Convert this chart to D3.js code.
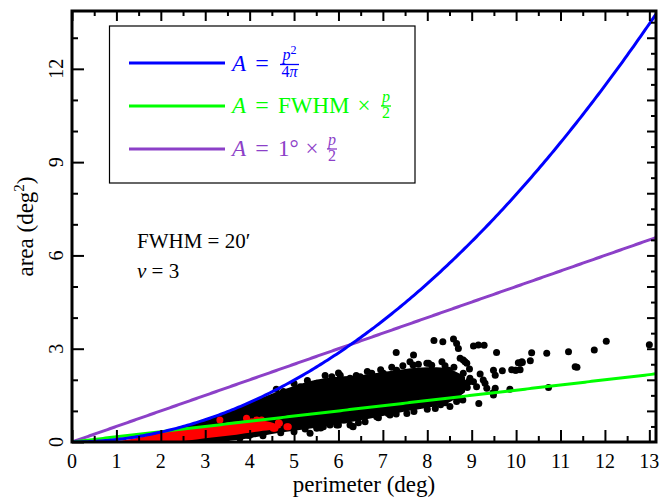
<!DOCTYPE html>
<html>
<head>
<meta charset="utf-8">
<script src="https://cdn.jsdelivr.net/npm/d3@7"></script>
<style>
body { margin: 0; background: #fff; }
</style>
</head>
<body>
<svg width="663" height="502"></svg>
<script>
// ---- data ----
var xTicks = [0, 1, 2, 3, 4, 5, 6, 7, 8, 9, 10, 11, 12, 13];
var yTicks = [0, 3, 6, 9, 12];
var fwhmDeg = 20 / 60;   // FWHM = 20'
var oneDeg = 1;

// dense part of the black cloud: [perimeter, lower area, upper area]
var blackCore = [
  [1.8, 0.00, 0.24], [2.0, 0.00, 0.32], [2.5, 0.00, 0.50], [3.0, 0.00, 0.72],
  [3.5, 0.03, 0.97], [4.0, 0.12, 1.27], [4.5, 0.26, 1.55], [5.0, 0.36, 1.80],
  [5.5, 0.46, 2.00], [6.0, 0.58, 2.10], [6.5, 0.70, 2.15], [7.0, 0.84, 2.25],
  [7.5, 0.98, 2.35], [8.0, 1.10, 2.40], [8.5, 1.28, 2.35], [8.85, 1.60, 2.10]
];
// dense part of the red cloud
var redCore = [
  [1.0, 0.00, 0.02], [1.3, 0.00, 0.09], [1.6, 0.00, 0.17], [2.0, 0.00, 0.29],
  [2.4, 0.02, 0.40], [2.8, 0.08, 0.47], [3.2, 0.15, 0.56], [3.6, 0.22, 0.64],
  [4.0, 0.30, 0.70], [4.3, 0.36, 0.68], [4.6, 0.42, 0.58], [4.7, 0.46, 0.50]
];
// single black points [perimeter, area]
var blackPts = [
  [8.15,3.26],[8.35,3.22],[8.59,3.31],[8.66,3.17],[8.70,3.01],[9.04,3.09],[9.15,3.12],[9.28,3.11],
  [9.56,2.88],[7.30,2.88],[7.69,2.80],[10.35,2.87],[10.69,2.85],[11.18,2.90],[11.76,2.96],[12.03,3.24],
  [13.0,3.13],[13.2,2.45],[11.33,2.42],[11.37,2.40],[10.73,1.75],[9.86,1.70],[10.0,2.31],[10.09,2.53],
  [10.13,2.58],[9.98,2.31],[9.69,2.29],[9.49,2.31],[9.53,2.15],[9.49,1.51],[9.48,1.58],[9.34,1.73],
  [9.53,1.73],[9.16,1.24],[9.19,2.19],[9.26,1.99],[9.30,1.89],[8.80,1.35],[8.36,1.35],[8.40,1.26],
  [8.18,1.08],[7.54,0.92],[7.12,0.92],[7.16,0.87],[6.86,0.81],[6.60,0.65],[6.32,0.51],[6.15,0.71],
  [6.19,0.76],[8.89,2.53],[8.81,2.64],[8.74,2.69],[8.81,2.21],[8.03,2.53],[7.68,2.48],[7.61,2.58],
  [10.32,2.61],[10.05,2.55],[10.14,2.56],[10.09,2.32],[9.90,2.32],[5.36,0.28],[6.26,0.55],[5.66,0.49],
  [5.81,0.55],[6.11,0.71],[6.04,1.03],[5.89,0.92],[5.85,2.10],[6.04,2.15],[6.26,2.05],[6.49,2.10],
  [6.75,2.21],[4.76,1.62],[5.14,1.78],[5.51,1.89],[7.01,2.21],[7.31,2.31],[7.99,2.53],[8.33,2.58],
  [8.48,2.31],[8.85,2.58],[8.96,1.99],[9.04,1.94],[8.66,1.62],[8.66,1.30],[8.51,1.14],[9.11,1.78],
  [8.93,1.94],[8.96,2.05],[2.51,0.12],[2.81,0.06],[3.18,0.17],[3.48,0.12],[3.78,0.12],[4.00,0.22],
  [3.15,0.22],[3.48,0.28],[3.97,0.22],[4.50,0.44],[4.91,0.49],[5.51,0.44],[5.96,0.55],[6.33,0.49],
  // ragged upper edge of the dense part
  [4.60,1.70],[5.00,1.88],[5.30,1.98],[5.70,2.14],[6.00,2.22],[6.40,2.14],[6.65,2.27],[6.95,2.32],
  [7.20,2.40],[7.45,2.45],[7.80,2.50],[8.10,2.47],[8.40,2.45],[8.60,2.40],[8.95,2.35],[8.90,1.90],
  // ragged lower edge of the dense part
  [4.30,0.20],[4.70,0.30],[5.00,0.33],[5.25,0.42],[5.60,0.45],[6.00,0.55],[6.45,0.62],[6.90,0.78],
  [7.30,0.90],[7.70,0.98],[8.00,1.05],[8.30,1.20],[8.70,1.42],[8.90,1.75]
];
// single red points
var redPts = [
  [4.57,0.44],[4.65,0.60],[4.84,0.49],[4.16,0.71],[4.27,0.71],[4.05,0.65],[3.33,0.71],[3.93,0.76],
  [4.65,0.62],[4.87,0.49],[4.23,0.65],[4.53,0.44],[4.67,0.60],[3.97,0.62],[4.16,0.69]
];

var legendItems = [
  { color: "#0000ff", kind: "iso" },
  { color: "#00ff00", kind: "fwhm" },
  { color: "#8c40c8", kind: "deg" }
];

// ---- setup ----
var svg = d3.select("svg")
    .attr("font-family", "'Liberation Serif', 'DejaVu Serif', 'Times New Roman', serif");

var x = d3.scaleLinear().domain([0, 13.15]).range([72, 656]);
var y = d3.scaleLinear().domain([0, 13.86]).range([442, 11]);

var plotW = x.range()[1] - x.range()[0],
    plotH = y.range()[0] - y.range()[1];

svg.append("clipPath").attr("id", "plotclip")
  .append("rect")
    .attr("x", x.range()[0]).attr("y", y.range()[1])
    .attr("width", plotW).attr("height", plotH);

var plot = svg.append("g").attr("clip-path", "url(#plotclip)");

// clouds
var cloudArea = d3.area()
    .x(function(d) { return x(d[0]); })
    .y0(function(d) { return y(d[1]); })
    .y1(function(d) { return y(d[2]); })
    .curve(d3.curveCatmullRom);

plot.append("path").datum(blackCore)
    .attr("d", cloudArea).attr("fill", "#000");
plot.append("g").selectAll("circle")
  .data(blackPts).enter().append("circle")
    .attr("cx", function(d) { return x(d[0]); })
    .attr("cy", function(d) { return y(d[1]); })
    .attr("r", 3.5).attr("fill", "#000");

plot.append("path").datum(redCore)
    .attr("d", cloudArea).attr("fill", "#ff0000");
plot.append("g").selectAll("circle")
  .data(redPts).enter().append("circle")
    .attr("cx", function(d) { return x(d[0]); })
    .attr("cy", function(d) { return y(d[1]); })
    .attr("r", 3.5).attr("fill", "#ff0000");

// model curves
var pGrid = d3.range(0, 13.3, 0.05);
function areaOf(kind, p) {
  if (kind === "iso") return p * p / (4 * Math.PI);
  if (kind === "fwhm") return fwhmDeg * p / 2;
  return oneDeg * p / 2;
}
var line = d3.line()
    .x(function(d) { return x(d[0]); })
    .y(function(d) { return y(d[1]); });

legendItems.slice().reverse().forEach(function(it) {
  plot.append("path")
    .datum(pGrid.map(function(p) { return [p, areaOf(it.kind, p)]; }))
    .attr("d", line)
    .attr("fill", "none")
    .attr("stroke", it.color)
    .attr("stroke-width", 3);
});

// ---- axes (ticks point inward) ----
function styleAxis(g) {
  g.select(".domain").remove();
  g.selectAll("line").attr("stroke", "#000").attr("stroke-width", 2);
  g.selectAll("text").remove();
}
var xMinor = d3.range(0.5, 13.1, 1);
var yMinorLeft = d3.range(1, 13.9, 1).filter(function(v) { return v % 3 !== 0; });
var yRightMajor = d3.range(1, 13.9, 1);
var yRightMinor = d3.range(0.5, 13.9, 1);

var B = y.range()[0], T = y.range()[1], L = x.range()[0], R = x.range()[1];

svg.append("g").attr("transform", "translate(0," + B + ")")
  .call(d3.axisBottom(x).tickValues(xTicks).tickSize(-12)).call(styleAxis);
svg.append("g").attr("transform", "translate(0," + B + ")")
  .call(d3.axisBottom(x).tickValues(xMinor).tickSize(-6)).call(styleAxis);
svg.append("g").attr("transform", "translate(0," + T + ")")
  .call(d3.axisTop(x).tickValues(xTicks).tickSize(-10)).call(styleAxis);
svg.append("g").attr("transform", "translate(0," + T + ")")
  .call(d3.axisTop(x).tickValues(xMinor).tickSize(-5)).call(styleAxis);
svg.append("g").attr("transform", "translate(" + L + ",0)")
  .call(d3.axisLeft(y).tickValues(yTicks).tickSize(-12)).call(styleAxis);
svg.append("g").attr("transform", "translate(" + L + ",0)")
  .call(d3.axisLeft(y).tickValues(yMinorLeft).tickSize(-6)).call(styleAxis);
svg.append("g").attr("transform", "translate(" + R + ",0)")
  .call(d3.axisRight(y).tickValues(yRightMajor).tickSize(-9)).call(styleAxis);
svg.append("g").attr("transform", "translate(" + R + ",0)")
  .call(d3.axisRight(y).tickValues(yRightMinor).tickSize(-5)).call(styleAxis);

svg.append("rect")
    .attr("x", L).attr("y", T).attr("width", plotW).attr("height", plotH)
    .attr("fill", "none").attr("stroke", "#000").attr("stroke-width", 3);

// tick labels
svg.append("g").selectAll("text")
  .data(xTicks).enter().append("text")
    .attr("x", function(d) { return x(d); })
    .attr("y", 468)
    .attr("text-anchor", "middle")
    .attr("font-size", 20)
    .text(function(d) { return d; });

svg.append("g").selectAll("text")
  .data(yTicks).enter().append("text")
    .attr("transform", function(d) { return "translate(63," + y(d) + ") rotate(-90)"; })
    .attr("text-anchor", "middle")
    .attr("font-size", 20)
    .text(function(d) { return d; });

// axis titles
svg.append("text")
    .attr("x", (L + R) / 2).attr("y", 492)
    .attr("text-anchor", "middle")
    .attr("font-size", 23)
    .text("perimeter (deg)");

var yl = svg.append("text")
    .attr("transform", "translate(33," + (T + B) / 2 + ") rotate(-90)")
    .attr("text-anchor", "middle")
    .attr("font-size", 23);
yl.append("tspan").text("area (deg");
yl.append("tspan").attr("font-size", 15).attr("dy", -9).text("2");
yl.append("tspan").attr("dy", 9).text(")");

// ---- legend ----
var leg = svg.append("g");
leg.append("rect")
    .attr("x", 109.5).attr("y", 26).attr("width", 305.5).attr("height", 157)
    .attr("fill", "#fff").attr("stroke", "#000").attr("stroke-width", 1.2);

var rowY = [63, 106, 149];
var baseY = [71, 112.5, 155.5];

function mathText(g, xPos, yPos, size, color, parts, anchor) {
  var t = g.append("text").attr("x", xPos).attr("y", yPos)
      .attr("font-size", size).attr("fill", color)
      .attr("text-anchor", anchor || "start");
  parts.forEach(function(p) {
    var s = t.append("tspan").text(p[0]);
    if (p[1]) s.attr("font-style", "italic");
  });
  return t;
}
function frac(g, x0, w, base, color, num, den) {
  var bar = base - 6.5;
  g.append("line")
      .attr("x1", x0).attr("x2", x0 + w).attr("y1", bar).attr("y2", bar)
      .attr("stroke", color).attr("stroke-width", 1.3);
  var n = g.append("text").attr("x", x0 + w / 2).attr("y", bar - 4.5)
      .attr("text-anchor", "middle").attr("font-size", 16).attr("fill", color);
  num.forEach(function(p) {
    var s = n.append("tspan").text(p[0]);
    if (p[1]) s.attr("font-style", "italic");
    if (p[2]) s.attr("font-size", 12).attr("dy", -6);
  });
  var d = g.append("text").attr("x", x0 + w / 2).attr("y", bar + 12)
      .attr("text-anchor", "middle").attr("font-size", 16).attr("fill", color);
  den.forEach(function(p) {
    var s = d.append("tspan").text(p[0]);
    if (p[1]) s.attr("font-style", "italic");
  });
}

legendItems.forEach(function(it, i) {
  leg.append("line")
      .attr("x1", 129).attr("x2", 225).attr("y1", rowY[i]).attr("y2", rowY[i])
      .attr("stroke", it.color).attr("stroke-width", 3);
  var c = it.color, b = baseY[i];
  mathText(leg, 232, b, 23, c, [["A", true]]);
  mathText(leg, 262, b, 24, c, [["=", false]], "middle");
  if (it.kind === "iso") {
    frac(leg, 280, 19, b, c, [["p", true], ["2", false, true]], [["4", false], ["π", true]]);
  } else if (it.kind === "fwhm") {
    mathText(leg, 278, b, 23, c, [["FWHM", false]]);
    mathText(leg, 364, b, 23, c, [["×", false]], "middle");
    frac(leg, 381, 10, b, c, [["p", true]], [["2", false]]);
  } else {
    mathText(leg, 278, b, 23, c, [["1°", false]]);
    mathText(leg, 312, b, 23, c, [["×", false]], "middle");
    frac(leg, 327, 10, b, c, [["p", true]], [["2", false]]);
  }
});

// ---- annotations ----
mathText(svg, 137, 248, 21, "#000", [["FWHM = 20′", false]]);
mathText(svg, 137, 278, 21, "#000", [["ν", true], [" = 3", false]]);
</script>
</body>
</html>
